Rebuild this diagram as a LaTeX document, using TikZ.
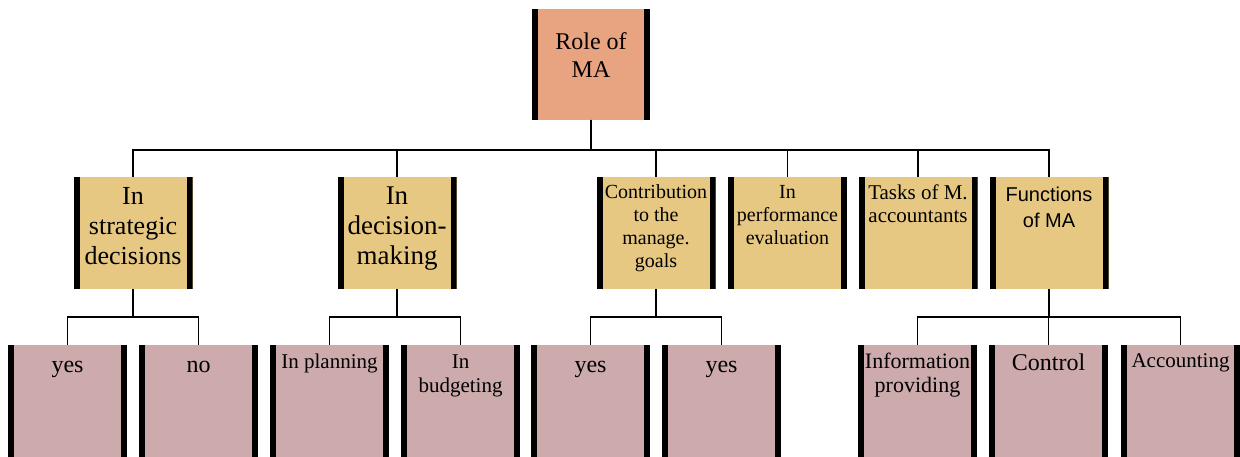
\documentclass[tikz,border=0pt]{standalone}
\usepackage{fontspec}
\setmainfont{Liberation Serif}
\newfontfamily\sansfn{Liberation Sans}
\definecolor{rootfill}{RGB}{232,163,128}
\definecolor{midfill}{RGB}{230,200,130}
\definecolor{leaffill}{RGB}{205,170,172}
\newcommand{\fs}[2]{\fontsize{#1}{#2}\selectfont}
\begin{document}
\begin{tikzpicture}[x=1pt,y=-1pt,
  box/.style={minimum width=119pt, minimum height=112pt, inner sep=0pt, outer sep=0pt,
    path picture={
      \fill[black] (path picture bounding box.north west) rectangle ([xshift=6pt]path picture bounding box.south west);
      \fill[black] (path picture bounding box.north east) rectangle ([xshift=-6pt]path picture bounding box.south east);}},
  rootbox/.style={box, fill=rootfill, minimum width=118pt, minimum height=111pt},
  midbox/.style={box, fill=midfill},
  leafbox/.style={box, fill=leaffill},
  % multi-line labels are placed by the baseline of their last line
  lbl/.style={anchor=base, align=center, inner sep=0pt, text=black},
  conn/.style={line width=1.8pt}]
\useasboundingbox (0,0) rectangle (1240,457);

% root
\node[rootbox] (root) at (591,64.5) {};
\node[lbl, font=\fs{24}{28}] (rootlbl) at (591,78) {Role of\\MA};

% second level
\node[midbox] (m1) at (133,233) {};
\node[midbox] (m2) at (397,233) {};
\node[midbox] (m3) at (656,233) {};
\node[midbox] (m4) at (787.5,233) {};
\node[midbox] (m5) at (918,233) {};
\node[midbox] (m6) at (1049,233) {};

\node[lbl, font=\fs{26}{30}] (m1lbl) at (133,265) {In\\strategic\\decisions};
\node[lbl, font=\fs{27}{30}] (m2lbl) at (397,265) {In\\decision-\\making};
\node[lbl, font=\fs{20}{23.3}] (m3lbl) at (656,268) {Contribution\\to the\\manage.\\goals};
\node[lbl, font=\fs{20}{23}] (m4lbl) at (787.5,244) {In\\performance\\evaluation};
\node[lbl, font=\fs{21}{24}] (m5lbl) at (918,223) {Tasks of M.\\accountants};
\node[lbl, font=\sansfn\fs{20}{26}] (m6lbl) at (1049,228) {Functions\\of MA};

% third level
\node[leafbox] (l1) at (67.5,401) {};
\node[leafbox] (l2) at (198.5,401) {};
\node[leafbox] (l3) at (329.5,401) {};
\node[leafbox] (l4) at (460.5,401) {};
\node[leafbox] (l5) at (590.5,401) {};
\node[leafbox] (l6) at (721.5,401) {};
\node[leafbox] (l7) at (917.5,401) {};
\node[leafbox] (l8) at (1048.5,401) {};
\node[leafbox] (l9) at (1180.5,401) {};

\node[lbl, font=\fs{24}{28}] (l1lbl) at (67.5,372) {yes};
\node[lbl, font=\fs{24}{28}] (l2lbl) at (198.5,372) {no};
\node[lbl, font=\fs{21}{24}] (l3lbl) at (329.5,368) {In planning};
\node[lbl, font=\fs{21}{24}] (l4lbl) at (460.5,392) {In\\budgeting};
\node[lbl, font=\fs{24}{28}] (l5lbl) at (590.5,372) {yes};
\node[lbl, font=\fs{24}{28}] (l6lbl) at (721.5,372) {yes};
\node[lbl, font=\fs{22}{24}] (l7lbl) at (917.5,392) {Information\\providing};
\node[lbl, font=\fs{24}{28}] (l8lbl) at (1048.5,370) {Control};
\node[lbl, font=\fs{21}{24}] (l9lbl) at (1180.5,367) {Accounting};

% connectors
\foreach \c in {m1,m2,m3,m4,m5,m6}
  \draw[conn] (root.south) -- ++(0,30) -| (\c.north);
\foreach \c in {l1,l2}
  \draw[conn] (m1.south) -- ++(0,28) -| (\c.north);
\foreach \c in {l3,l4}
  \draw[conn] (m2.south) -- ++(0,28) -| (\c.north);
\foreach \c in {l5,l6}
  \draw[conn] (m3.south) -- ++(0,28) -| (\c.north);
\foreach \c in {l7,l8,l9}
  \draw[conn] (m6.south) -- ++(0,28) -| (\c.north);
\end{tikzpicture}
\end{document}
